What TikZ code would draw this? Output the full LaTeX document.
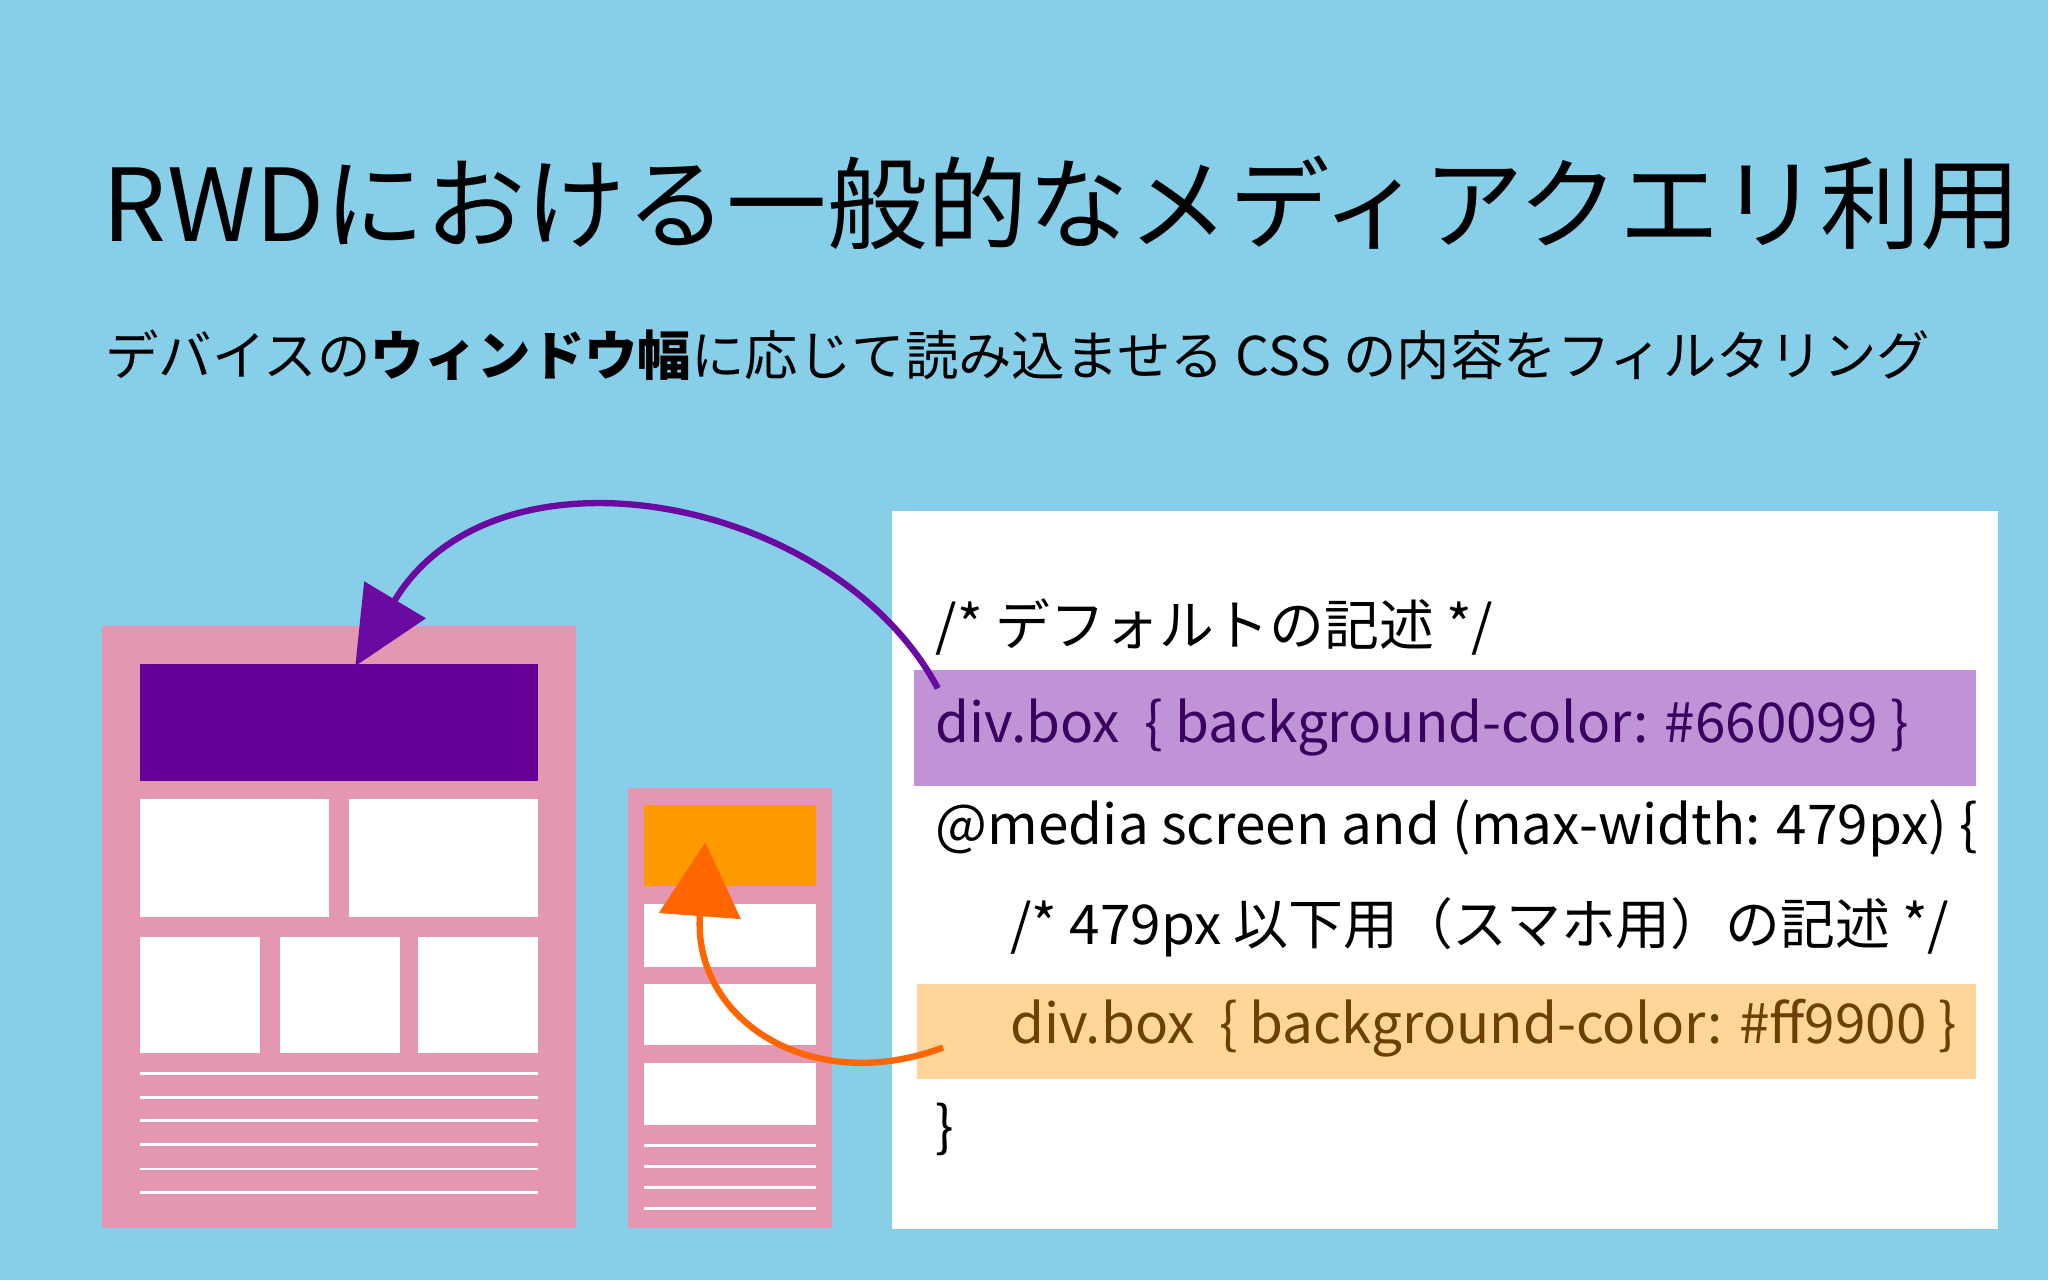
\documentclass[tikz,border=0pt]{standalone}
\usepackage{fontspec}
\setmainfont{Noto Sans CJK JP}
\usetikzlibrary{arrows.meta}
\definecolor{bg}{HTML}{87CFE8}
\definecolor{pk}{HTML}{E397B0}
\definecolor{pu}{HTML}{660099}
\definecolor{og}{HTML}{FF9900}
\definecolor{hlp}{HTML}{C093D6}
\definecolor{hlo}{HTML}{FFD699}
\definecolor{tp}{HTML}{3A0060}
\definecolor{to}{HTML}{6B4000}
\definecolor{arp}{HTML}{6A0AA0}
\definecolor{aro}{HTML}{FF6600}
\begin{document}
\begin{tikzpicture}[x=0.1306mm,y=-0.1306mm,
  wb/.style={fill=white},
  wl/.style={draw=white,line width=0.8pt},
  code/.style={anchor=west,inner sep=0,font=\fontsize{15.6}{18}\selectfont}]
\useasboundingbox (0,0) rectangle (1568,980);
\fill[bg] (0,0) rectangle (1568,980);
\node[anchor=west,inner sep=0,font=\fontsize{28.6}{34}\selectfont] (title) at (78,155) {RWDにおける一般的なメディアクエリ利用};
\node[anchor=west,inner sep=0,font=\fontsize{15.2}{18}\selectfont] (sub) at (80,272) {デバイスの\textbf{ウィンドウ幅}に応じて読み込ませる CSS の内容をフィルタリング};
% big page
\fill[pk] (78,479) rectangle (441,940);
\fill[pu] (107,508) rectangle (412,598);
\fill[wb] (107,612) rectangle (252,702); \fill[wb] (267,612) rectangle (412,702);
\fill[wb] (107,717) rectangle (199,806); \fill[wb] (214,717) rectangle (306,806); \fill[wb] (320,717) rectangle (412,806);
\foreach \y in {822,840,858,876,895,913} \draw[wl] (107,\y) -- (412,\y);
% small page
\fill[pk] (481,603) rectangle (637,940);
\fill[og] (493,616) rectangle (625,678);
\fill[wb] (493,692) rectangle (625,740); \fill[wb] (493,753) rectangle (625,800); \fill[wb] (493,814) rectangle (625,861);
\foreach \y in {877,893,909,925} \draw[wl] (493,\y) -- (625,\y);
% code panel
\fill[white] (683,391) rectangle (1530,941);
\fill[hlp] (700,513) rectangle (1513,602);
\fill[hlo] (702,753) rectangle (1513,826);
\node[code] (c1) at (716,480) {/* デフォルトの記述 */};
\node[code,text=tp] (c2) at (716,557) {div.box\ \ \{ background-color: \#660099 \}};
\node[code] (c3) at (716,634) {@media screen and (max-width: 479px) \{};
\node[code] (c4) at (773,710) {/* 479px 以下用（スマホ用）の記述 */};
\node[code,text=to] (c5) at (773,787) {div.box\ \ \{ background-color: \#ff9900 \}};
\node[code] (c6) at (716,865) {\}};
% arrows
\coordinate (ps) at (718,527);
\coordinate (pe) at (272,510);
\coordinate (os) at (722,802);
\coordinate (oe) at (540,645);
\draw[arp,line width=1.8pt,-{Triangle[length=22pt,width=20pt]}] (ps) .. controls (640,380) and (380,330) .. (pe);
\draw[aro,line width=1.8pt,-{Triangle[length=21pt,width=23pt]}] (os) .. controls (620,840) and (530,780) .. (oe);
\end{tikzpicture}
\end{document}
